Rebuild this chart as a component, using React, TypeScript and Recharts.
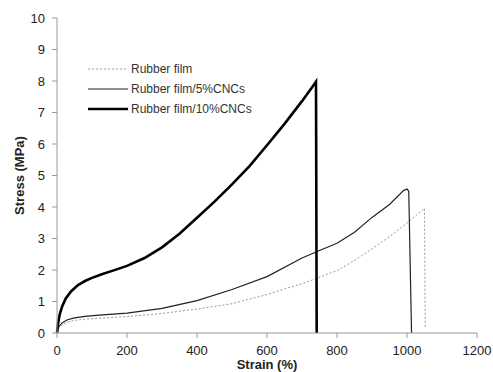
import { Label, Line, LineChart, XAxis, YAxis } from 'recharts';
import type { JSX } from 'react';

const rubberStrain = [0, 5, 15, 30, 50, 80, 120, 200, 300, 400, 500, 600, 650, 700, 800, 850, 900, 950, 1000, 1050, 1052];
const rubberStress = [0, 0.15, 0.27, 0.35, 0.4, 0.44, 0.47, 0.52, 0.62, 0.76, 0.93, 1.22, 1.4, 1.56, 1.98, 2.3, 2.67, 3.06, 3.49, 3.96, 0.15];

const cnc5Strain = [0, 5, 15, 30, 50, 80, 120, 200, 300, 400, 500, 600, 700, 750, 800, 850, 900, 950, 990, 1000, 1005, 1013];
const cnc5Stress = [0, 0.2, 0.33, 0.42, 0.48, 0.53, 0.57, 0.63, 0.78, 1.03, 1.38, 1.79, 2.38, 2.62, 2.85, 3.2, 3.67, 4.08, 4.52, 4.57, 4.5, 0];

const cnc10Strain = [0, 3, 8, 15, 25, 40, 60, 80, 100, 130, 160, 200, 250, 300, 350, 400, 450, 500, 550, 600, 650, 700, 735, 740, 742];
const cnc10Stress = [0, 0.3, 0.6, 0.85, 1.1, 1.32, 1.52, 1.65, 1.75, 1.87, 1.98, 2.13, 2.38, 2.72, 3.15, 3.66, 4.17, 4.72, 5.3, 5.96, 6.64, 7.36, 7.9, 7.98, 0];

const xTicks = [0, 200, 400, 600, 800, 1000, 1200];
const yTicks = [0, 1, 2, 3, 4, 5, 6, 7, 8, 9, 10];

const toPoints = (xs: number[], ys: number[]) => xs.map((x, i) => ({ strain: x, stress: ys[i] }));

const series = [
  { name: 'Rubber film', data: toPoints(rubberStrain, rubberStress), color: '#9a9a9a', width: 1, dash: '2 2' },
  { name: 'Rubber film/5%CNCs', data: toPoints(cnc5Strain, cnc5Stress), color: '#222222', width: 1.2, dash: undefined },
  { name: 'Rubber film/10%CNCs', data: toPoints(cnc10Strain, cnc10Stress), color: '#000000', width: 2.6, dash: undefined },
];

const FONT = '"Liberation Sans", Arial, sans-serif';

function LegendBox(): JSX.Element {
  return (
    <div style={{ position: 'absolute', left: 88, top: 59, fontFamily: FONT, fontSize: 12, color: '#333' }}>
      {series.map((s) => (
        <div key={s.name} style={{ display: 'flex', alignItems: 'center', height: 20 }}>
          <svg width={40} height={6}>
            <line x1={0} y1={3} x2={40} y2={3} stroke={s.color} strokeWidth={s.width} strokeDasharray={s.dash} />
          </svg>
          <span style={{ marginLeft: 3 }}>{s.name}</span>
        </div>
      ))}
    </div>
  );
}

export default function App(): JSX.Element {
  return (
    <div style={{ position: 'fixed', left: 0, top: 0, width: 493, height: 372, background: '#fff' }}>
      <LineChart width={493} height={372} margin={{ top: 18, right: 16, left: 0, bottom: 0 }}>
        <XAxis
          type="number"
          dataKey="strain"
          domain={[0, 1200]}
          ticks={xTicks}
          height={39}
          stroke="#999"
          tickSize={5}
          tickMargin={8}
          tick={{ fill: '#222', fontSize: 13, fontFamily: FONT }}
          allowDuplicatedCategory={false}
        >
          <Label value="Strain (%)" position="insideBottom" offset={3} style={{ fontFamily: FONT, fontWeight: 700, fontSize: 13, fill: '#222' }} />
        </XAxis>
        <YAxis
          type="number"
          dataKey="stress"
          domain={[0, 10]}
          ticks={yTicks}
          width={57}
          stroke="#999"
          tickSize={5}
          tickMargin={7}
          tick={{ fill: '#222', fontSize: 13, fontFamily: FONT }}
        >
          <Label value="Stress (MPa)" angle={-90} position="insideLeft" offset={19} style={{ fontFamily: FONT, fontWeight: 700, fontSize: 13, fill: '#222', textAnchor: 'middle' }} />
        </YAxis>
        {series.map((s) => (
          <Line
            key={s.name}
            data={s.data}
            dataKey="stress"
            name={s.name}
            type="linear"
            stroke={s.color}
            strokeWidth={s.width}
            strokeDasharray={s.dash}
            dot={false}
            activeDot={false}
            isAnimationActive={false}
          />
        ))}
      </LineChart>
      <LegendBox />
    </div>
  );
}
